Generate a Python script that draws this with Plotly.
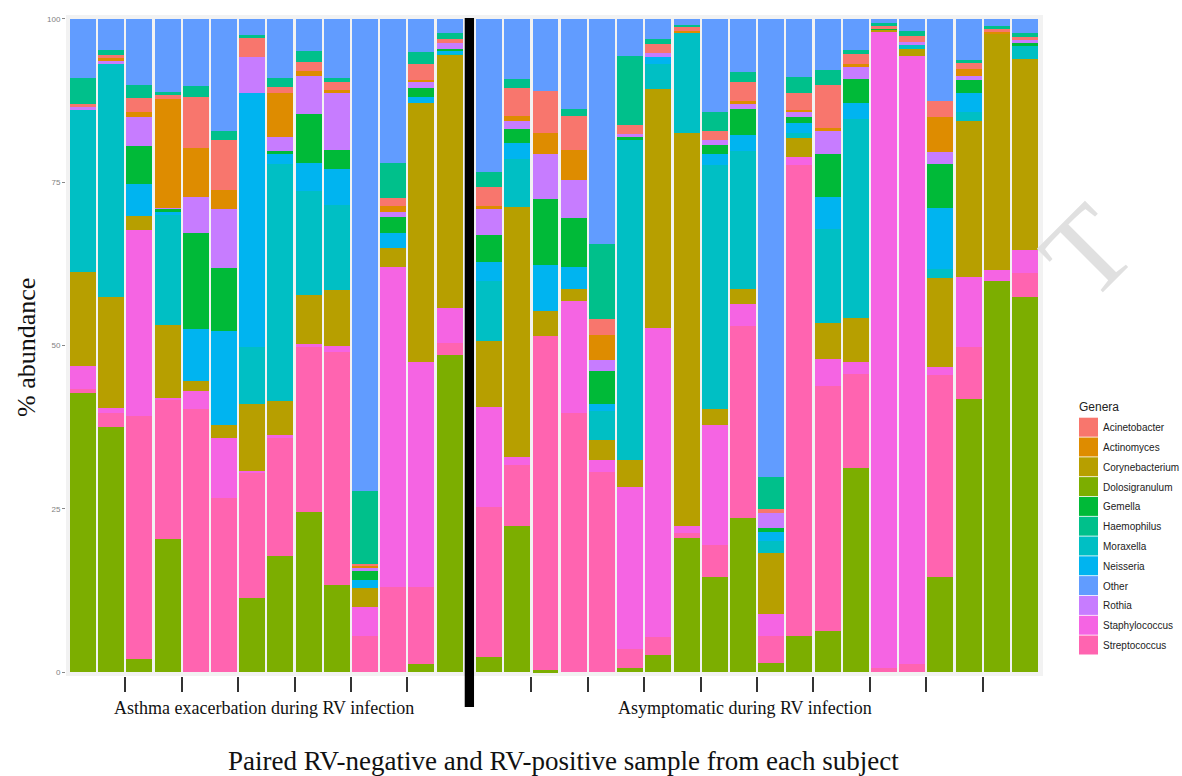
import plotly.graph_objects as go

# ---- data (% abundance), 14 asthma-exacerbation samples then 20 asymptomatic samples ----
dolosigranulum = [42.7, 37.5, 2.0, 20.4, 0, 0, 11.3, 17.8, 24.5, 13.3, 0, 0, 1.2, 48.5,
                  2.3, 22.3, 0.3, 0, 0, 0.6, 2.6, 20.6, 14.6, 23.6, 1.4, 5.5, 6.3, 31.3, 0, 0, 14.5, 41.8, 59.9, 57.5]
streptococcus = [0.7, 2.2, 37.2, 21.4, 40.3, 26.6, 19.2, 18.0, 25.2, 35.7, 5.5, 13.1, 11.8, 1.9,
                 22.9, 9.4, 51.2, 39.7, 30.7, 3.0, 2.8, 0.7, 4.8, 29.4, 4.2, 72.2, 37.5, 14.4, 0.6, 1.2, 31.0, 7.9, 0, 3.6]
staphylococcus = [3.4, 0.7, 28.5, 0.2, 2.8, 9.2, 0.3, 0.5, 0.5, 0.9, 4.5, 48.9, 34.5, 5.3,
                  15.4, 1.2, 0, 17.1, 1.7, 24.7, 47.3, 1.0, 18.5, 3.3, 3.3, 1.1, 4.2, 1.8, 97.5, 93.2, 1.2, 10.8, 1.7, 3.5]
corynebacterium = [14.4, 17.0, 2.1, 11.2, 1.4, 2.0, 10.2, 5.2, 7.5, 8.6, 2.8, 3.0, 39.6, 38.8,
                   10.1, 38.3, 3.8, 1.9, 3.1, 4.2, 36.6, 60.2, 2.4, 2.4, 9.4, 3.0, 5.4, 6.7, 0.3, 1.0, 13.6, 23.9, 36.1, 29.3]
moraxella = [25.0, 35.7, 0, 16.8, 0, 0, 8.7, 36.3, 16.0, 13.0, 0, 0, 0, 0.2,
             9.1, 7.3, 0, 0, 4.5, 49.1, 3.8, 15.3, 37.4, 21.1, 1.8, 0.8, 14.5, 30.5, 0, 0.6, 1.4, 1.4, 0, 2.0]
neisseria = [0, 0, 5.0, 0.5, 8.1, 14.4, 38.9, 1.5, 4.2, 5.5, 1.3, 2.2, 0.9, 0.4,
             3.0, 2.5, 7.0, 3.3, 1.0, 0, 1.1, 0, 1.6, 2.5, 1.3, 1.5, 4.8, 2.4, 0, 0, 9.4, 2.8, 0, 0]
gemella = [0, 0, 5.7, 0.4, 14.6, 9.6, 0, 0.5, 7.6, 2.9, 1.4, 2.4, 1.5, 0.3,
           4.1, 2.1, 10.2, 7.5, 5.1, 0.3, 0, 0, 1.4, 3.9, 0.6, 0.9, 6.6, 3.7, 0.2, 0, 6.7, 2.0, 0, 0.5]
rothia = [0.3, 0.6, 4.5, 0.2, 5.5, 9.1, 5.6, 2.1, 5.7, 8.8, 0.5, 0.8, 0.9, 0.9,
          4.0, 1.3, 6.8, 5.8, 1.7, 0.5, 0.6, 0, 0.7, 0.8, 2.3, 0.8, 3.6, 1.9, 0, 0.5, 1.9, 0.7, 0, 0.3]
actinomyces = [0, 0.3, 0.7, 16.6, 7.6, 2.9, 0, 6.8, 0.8, 0.4, 0.3, 0.9, 0.3, 0,
               0.5, 0.7, 3.2, 4.7, 3.8, 0, 0, 0.4, 0, 0.4, 0, 0.3, 0.4, 0.4, 0, 0, 5.3, 1.0, 0.3, 0]
acinetobacter = [0.5, 0.5, 2.2, 0.8, 7.7, 7.7, 3.0, 0.9, 1.4, 1.3, 0.3, 1.3, 2.4, 0.6,
                 2.9, 4.4, 6.5, 5.1, 2.4, 1.4, 1.4, 0.5, 1.4, 2.9, 0.7, 2.5, 6.6, 1.6, 0.3, 0.9, 2.5, 0.9, 0.4, 0.5]
haemophilus = [3.9, 0.8, 2.0, 0.3, 1.7, 1.4, 0.3, 1.4, 1.7, 0.6, 11.2, 5.3, 1.9, 0.9,
               2.2, 1.3, 0, 1.1, 11.5, 10.6, 0.7, 0.4, 3.0, 1.6, 4.8, 2.5, 2.3, 0.6, 0.4, 0.7, 0, 0.5, 0.5, 0.6]
other = [9.1, 4.7, 10.1, 11.2, 10.3, 17.1, 2.5, 9.0, 4.9, 9.0, 72.2, 22.1, 5.0, 2.2,
         23.5, 9.2, 11.0, 13.8, 34.5, 5.6, 3.1, 0.9, 14.2, 8.1, 70.2, 8.9, 7.8, 4.7, 0.7, 1.9, 12.5, 6.3, 1.1, 2.2]

n_asthma = 14
n_asym = 20
group_labels = ["Asthma exacerbation during RV infection", "Asymptomatic during RV infection"]
x_title = "Paired RV-negative and RV-positive sample from each subject"
y_title = "% abundance"
y_ticks = [0, 25, 50, 75, 100]
legend_title = "Genera"

# legend (alphabetical) and colours (ggplot hue palette)
legend_names = ["Acinetobacter", "Actinomyces", "Corynebacterium", "Dolosigranulum", "Gemella",
                "Haemophilus", "Moraxella", "Neisseria", "Other", "Rothia", "Staphylococcus", "Streptococcus"]
colors = {"Acinetobacter": "#F8766D", "Actinomyces": "#DE8C00", "Corynebacterium": "#B79F00",
          "Dolosigranulum": "#7CAE00", "Gemella": "#00BA38", "Haemophilus": "#00C08B",
          "Moraxella": "#00BFC4", "Neisseria": "#00B4F0", "Other": "#619CFF", "Rothia": "#C77CFF",
          "Staphylococcus": "#F564E3", "Streptococcus": "#FF64B0"}

# stacking order, bottom to top
stack = [("Dolosigranulum", dolosigranulum), ("Streptococcus", streptococcus),
         ("Staphylococcus", staphylococcus), ("Corynebacterium", corynebacterium),
         ("Moraxella", moraxella), ("Neisseria", neisseria), ("Gemella", gemella),
         ("Rothia", rothia), ("Actinomyces", actinomyces), ("Acinetobacter", acinetobacter),
         ("Haemophilus", haemophilus), ("Other", other)]

gap = 1.4
xpos = [i for i in range(n_asthma)] + [n_asthma - 1 + gap + j for j in range(n_asym)]
sep_ticks = [i + 1.5 for i in range(0, n_asthma - 2, 2)] + \
            [n_asthma - 1 + gap + j + 1.5 for j in range(0, n_asym - 2, 2)]

fig = go.Figure()
for name, vals in stack:
    fig.add_trace(go.Bar(x=xpos, y=vals, name=name, marker=dict(color=colors[name], line=dict(width=0)),
                         width=0.92, showlegend=False))

# geometry helpers: reference pixel coords -> paper fraction
FW, FH = 1182, 776
L, R, T, B = 66, 1043, 15, 676
W, H = R - L, B - T
px = lambda p: (p - L) / W
py = lambda p: (B - p) / H

fig.update_layout(
    width=FW, height=FH, barmode="stack", bargap=0,
    margin=dict(l=L, r=FW - R, t=T, b=FH - B, autoexpand=False),
    paper_bgcolor="white", plot_bgcolor="#F2F2F2",
    xaxis=dict(range=[-0.603, 34.04], tickvals=sep_ticks, ticks="outside", ticklen=15, tickwidth=1.5,
               tickcolor="#333333", showticklabels=False, showgrid=False, zeroline=False, showline=False),
    yaxis=dict(range=[-0.6, 100.6], tickvals=y_ticks, ticktext=[str(t) for t in y_ticks], ticks="outside",
               ticklen=3, tickcolor="#888888", tickfont=dict(family="Liberation Sans", size=8, color="#7F7F7F"),
               showgrid=False, zeroline=False, showline=False),
    font=dict(family="Liberation Sans"),
)

# faint watermark fragment at the right
fig.add_annotation(text="T", xref="paper", yref="paper", x=px(1088), y=py(252), xanchor="center",
                   yanchor="middle", textangle=-45, showarrow=False,
                   font=dict(family="Liberation Serif", size=118, color="#E0E0E0"))

# black divider between groups
sep_x = n_asthma - 1 + gap / 2
fig.add_shape(type="rect", xref="x", yref="paper", x0=sep_x - 0.165, x1=sep_x + 0.165,
              y0=py(707), y1=py(18), fillcolor="black", line=dict(width=0), layer="above")

serif = "Liberation Serif"
fig.add_annotation(text=group_labels[0], xref="paper", yref="paper", x=px(263.5), y=py(708),
                   xanchor="center", yanchor="middle",
                   showarrow=False, font=dict(family=serif, size=18, color="#111111"))
fig.add_annotation(text=group_labels[1], xref="paper", yref="paper", x=px(745), y=py(708),
                   xanchor="center", yanchor="middle",
                   showarrow=False, font=dict(family=serif, size=18, color="#111111"))
fig.add_annotation(text=x_title, xref="paper", yref="paper", x=px(563), y=py(761),
                   xanchor="center", yanchor="middle",
                   showarrow=False, font=dict(family=serif, size=27, color="#111111"))
fig.add_annotation(text=y_title, xref="paper", yref="paper", x=px(26), y=py(348), textangle=-90,
                   xanchor="center", yanchor="middle",
                   showarrow=False, font=dict(family=serif, size=26, color="#111111"))

# custom legend
fig.add_annotation(text=legend_title, xref="paper", yref="paper", x=px(1077), y=py(407),
                   xanchor="left", yanchor="middle",
                   showarrow=False, font=dict(family="Liberation Sans", size=12, color="#222222"))
row_h = 19.8
for k, name in enumerate(legend_names):
    y0 = 417.7 + k * row_h
    fig.add_shape(type="rect", xref="paper", yref="paper", x0=px(1079), x1=px(1098),
                  y0=py(y0 + row_h - 0.8), y1=py(y0), fillcolor=colors[name], line=dict(width=0))
    fig.add_annotation(text=name, xref="paper", yref="paper", x=px(1101), y=py(y0 + row_h / 2),
                       xanchor="left", yanchor="middle", showarrow=False,
                       font=dict(family="Liberation Sans", size=10, color="#222222"))

fig.write_html("out.html", config={"displayModeBar": False},
               post_script="document.body.style.margin='0px';document.body.style.overflow='hidden';")
